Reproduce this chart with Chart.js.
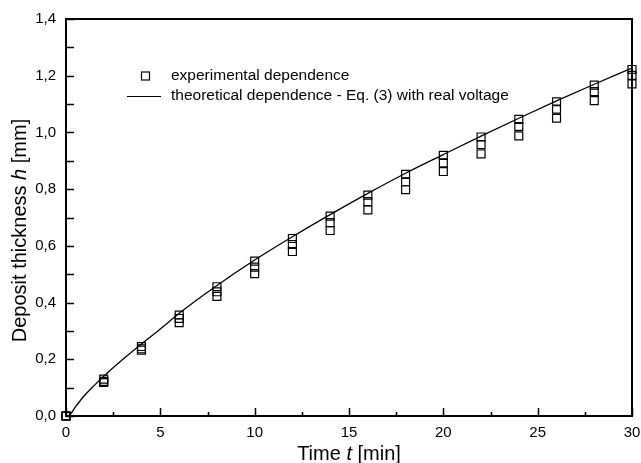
<!DOCTYPE html>
<html>
<head>
<meta charset="utf-8">
<script src="https://cdn.jsdelivr.net/npm/chart.js@4.4.1/dist/chart.umd.min.js"></script>
<style>
  html, body { margin: 0; padding: 0; background: #fff; }
  #wrap { width: 641px; height: 463px; position: relative; }
</style>
</head>
<body>
<div id="wrap"><canvas id="c" width="641" height="463"></canvas></div>
<script>
// ---- data ----
const expTimes = [0, 2, 4, 6, 8, 10, 12, 14, 16, 18, 20, 22, 24, 26, 28, 30];
const expRunA  = [0, 0.130, 0.245, 0.356, 0.456, 0.546, 0.626, 0.705, 0.779, 0.852, 0.919, 0.984, 1.046, 1.108, 1.167, 1.222];
const expRunB  = [0, 0.122, 0.237, 0.344, 0.438, 0.525, 0.605, 0.682, 0.756, 0.826, 0.893, 0.957, 1.021, 1.082, 1.144, 1.201];
const expRunC  = [0, 0.118, 0.232, 0.329, 0.422, 0.502, 0.580, 0.654, 0.727, 0.798, 0.862, 0.924, 0.988, 1.050, 1.112, 1.171];

const theoryTimes     = [0, 0.2, 0.5, 1, 1.5, 2, 3, 4, 5, 6, 8, 10, 12, 14, 16, 18, 20, 22, 24, 26, 28, 30];
const theoryThickness = [0, 0.004, 0.032, 0.074, 0.108, 0.140, 0.199, 0.254, 0.307, 0.362, 0.460, 0.550, 0.632, 0.710, 0.785, 0.856, 0.922, 0.987, 1.050, 1.111, 1.170, 1.227];

const xMajorTicks = [0, 5, 10, 15, 20, 25, 30];
const xMinorTicks = [2.5, 7.5, 12.5, 17.5, 22.5, 27.5];
const yMajorTicks = [0, 0.2, 0.4, 0.6, 0.8, 1.0, 1.2, 1.4];
const yMinorTicks = [0.1, 0.3, 0.5, 0.7, 0.9, 1.1, 1.3];

const seriesLabels = ['experimental dependence', 'theoretical dependence - Eq. (3) with real voltage'];
const xTitleParts = [['Time ', false], ['t', true], [' [min]', false]];
const yTitleParts = [['Deposit thickness ', false], ['h', true], [' [mm]', false]];

// ---- build datasets ----
const expPoints = [];
expTimes.forEach((t, i) => {
  expPoints.push({ x: t, y: expRunA[i] });
  expPoints.push({ x: t, y: expRunB[i] });
  expPoints.push({ x: t, y: expRunC[i] });
});
const theoryPoints = theoryTimes.map((t, i) => ({ x: t, y: theoryThickness[i] }));

const FONT = '"Liberation Sans", Arial, Helvetica, sans-serif';

function drawRich(ctx, parts, size) {
  let total = 0;
  parts.forEach(([txt, it]) => {
    ctx.font = (it ? 'italic ' : '') + size + 'px ' + FONT;
    total += ctx.measureText(txt).width;
  });
  let x = -total / 2;
  parts.forEach(([txt, it]) => {
    ctx.font = (it ? 'italic ' : '') + size + 'px ' + FONT;
    ctx.fillText(txt, x, 0);
    x += ctx.measureText(txt).width;
  });
}

const decor = {
  id: 'decor',
  beforeDatasetsDraw(chart) {
    const { ctx, chartArea: a, scales: { x, y } } = chart;
    ctx.save();
    ctx.strokeStyle = '#000';
    ctx.lineWidth = 2;
    ctx.strokeRect(a.left, a.top, a.right - a.left, a.bottom - a.top);
    ctx.lineWidth = 1.5;
    ctx.beginPath();
    yMajorTicks.concat(yMinorTicks).forEach(v => {
      const py = Math.round(y.getPixelForValue(v)) + 0.5;
      ctx.moveTo(a.left, py); ctx.lineTo(a.left + 8, py);
    });
    xMajorTicks.forEach(v => {
      const px = Math.round(x.getPixelForValue(v)) + 0.5;
      ctx.moveTo(px, a.bottom); ctx.lineTo(px, a.bottom - 8);
    });
    xMinorTicks.forEach(v => {
      const px = Math.round(x.getPixelForValue(v)) + 0.5;
      ctx.moveTo(px, a.bottom); ctx.lineTo(px, a.bottom - 4);
    });
    ctx.stroke();
    ctx.restore();
  },
  afterDraw(chart) {
    const { ctx, chartArea: a } = chart;
    ctx.save();
    ctx.fillStyle = '#000';
    ctx.strokeStyle = '#000';
    // legend
    ctx.font = '15.5px ' + FONT;
    ctx.textBaseline = 'middle';
    ctx.textAlign = 'left';
    const lx = a.left + 105, ly1 = a.top + 57, ly2 = a.top + 77;
    ctx.lineWidth = 1.2;
    ctx.strokeRect(a.left + 75.5, ly1 - 4, 8, 8);
    ctx.fillText(seriesLabels[0], lx, ly1);
    ctx.beginPath();
    ctx.moveTo(a.left + 61, ly2 + 0.5); ctx.lineTo(a.left + 95, ly2 + 0.5);
    ctx.stroke();
    ctx.fillText(seriesLabels[1], lx, ly2);
    // axis titles
    ctx.textBaseline = 'middle';
    ctx.save();
    ctx.translate((a.left + a.right) / 2, 454);
    drawRich(ctx, xTitleParts, 20);
    ctx.restore();
    ctx.save();
    ctx.translate(20, (a.top + a.bottom) / 2 + 13);
    ctx.rotate(-Math.PI / 2);
    drawRich(ctx, yTitleParts, 20);
    ctx.restore();
    ctx.restore();
  }
};

new Chart(document.getElementById('c'), {
  type: 'scatter',
  data: {
    datasets: [
      {
        label: seriesLabels[0],
        data: expPoints,
        pointStyle: 'rect',
        pointRadius: 5.6,
        pointHoverRadius: 5.6,
        borderColor: '#000',
        backgroundColor: 'rgba(0,0,0,0)',
        pointBorderWidth: 1.2,
        clip: false,
        order: 2
      },
      {
        label: seriesLabels[1],
        data: theoryPoints,
        showLine: true,
        pointRadius: 0,
        borderColor: '#000',
        borderWidth: 1.3,
        cubicInterpolationMode: 'monotone',
        fill: false,
        order: 1
      }
    ]
  },
  options: {
    responsive: false,
    animation: false,
    devicePixelRatio: 1,
    layout: { padding: { top: 19, right: 9, left: 0, bottom: 0 } },
    plugins: { legend: { display: false }, tooltip: { enabled: false } },
    scales: {
      x: {
        type: 'linear', min: 0, max: 30,
        afterBuildTicks: s => { s.ticks = xMajorTicks.map(v => ({ value: v })); },
        afterFit: s => { s.height = 47; s.paddingRight = 0; s.paddingLeft = 0; },
        grid: { display: false, drawTicks: false },
        border: { display: false },
        ticks: { color: '#000', padding: 8, maxRotation: 0, font: { family: FONT, size: 15 }, callback: v => String(v) }
      },
      y: {
        type: 'linear', min: 0, max: 1.4,
        afterBuildTicks: s => { s.ticks = yMajorTicks.map(v => ({ value: v })); },
        afterFit: s => { s.width = 66; s.paddingTop = 0; s.paddingBottom = 0; },
        grid: { display: false, drawTicks: false },
        border: { display: false },
        ticks: { color: '#000', padding: 10, font: { family: FONT, size: 15 }, callback: v => Number(v).toFixed(1).replace('.', ',') }
      }
    }
  },
  plugins: [decor]
});
</script>
</body>
</html>
